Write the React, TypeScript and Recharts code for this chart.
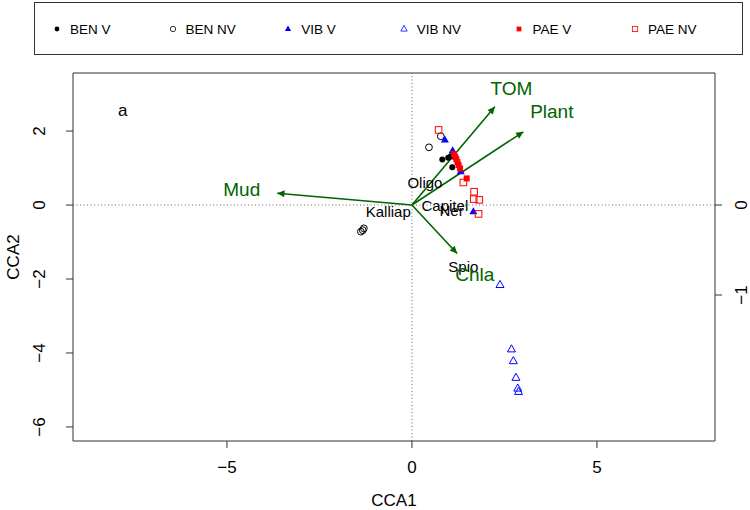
import React from 'react';
import { ScatterChart, Scatter, XAxis, YAxis, ReferenceLine } from 'recharts';

// site scores (CCA1, CCA2) per group
const benVX = [0.82, 1.05, 1.09, 0.98];
const benVY = [1.23, 1.32, 1.02, 1.28];
const benNvX = [0.78, 0.46, -1.38, -1.33, -1.3];
const benNvY = [1.86, 1.56, -0.72, -0.68, -0.63];
const vibVX = [0.89, 1.1, 1.32, 1.66];
const vibVY = [1.76, 1.47, 0.9, -0.18];
const vibNvX = [2.38, 2.69, 2.74, 2.81, 2.86, 2.88];
const vibNvY = [-2.16, -3.9, -4.22, -4.67, -4.96, -5.05];
const paeVX = [1.14, 1.17, 1.2, 1.23, 1.26, 1.3, 1.48];
const paeVY = [1.38, 1.3, 1.24, 1.16, 1.08, 0.99, 0.72];
const paeNvX = [0.72, 1.39, 1.68, 1.67, 1.82, 1.8];
const paeNvY = [2.03, 0.61, 0.36, 0.16, 0.14, -0.24];

// species scores
const speciesNames = ['Oligo', 'Capitel', 'Ner', 'Kalliap', 'Spio'];
const speciesX = [0.35, 0.89, 1.07, -0.64, 1.39];
const speciesY = [0.6, 0.0, -0.14, -0.18, -1.65];

// biplot arrows and their labels
const envNames = ['TOM', 'Plant', 'Mud', 'Chla'];
const envX = [2.24, 3.01, -3.64, 1.22];
const envY = [2.66, 1.98, 0.32, -1.31];
const envLabelX = [2.69, 3.78, -4.6, 1.7];
const envLabelY = [3.16, 2.52, 0.41, -1.89];

const xTicks = [-5, 0, 5];
const yTicks = [-6, -4, -2, 0, 2];
const topTicks = [-1, 0, 1];
const rightTicks = [-1, 0];

const GREEN = '#006400';
const FONT = '"Liberation Sans", Arial, sans-serif';
const AXIS_FS = 17;

const toPts = (xs: number[], ys: number[]) => xs.map((x, i) => ({ x, y: ys[i] }));
const fmt = (v: number) => String(v).replace('-', '\u2212');

const FilledCircle = ({ cx, cy }: any) => <circle cx={cx} cy={cy} r={3} fill="#000" />;
const OpenCircle = ({ cx, cy }: any) => (
  <circle cx={cx} cy={cy} r={3.4} fill="none" stroke="#000" strokeWidth={1} />
);
const triPts = (cx: number, cy: number) =>
  `${cx},${cy - 4.5} ${cx - 4},${cy + 2.6} ${cx + 4},${cy + 2.6}`;
const FilledTri = ({ cx, cy }: any) => <polygon points={triPts(cx, cy)} fill="#0000ff" />;
const OpenTri = ({ cx, cy }: any) => (
  <polygon points={triPts(cx, cy)} fill="none" stroke="#0000ff" strokeWidth={1} />
);
const FilledSq = ({ cx, cy }: any) => <rect x={cx - 3} y={cy - 3} width={6} height={6} fill="#ff0000" />;
const OpenSq = ({ cx, cy }: any) => (
  <rect x={cx - 3.3} y={cy - 3.3} width={6.6} height={6.6} fill="none" stroke="#ff0000" strokeWidth={1} />
);

const groups = [
  { name: 'BEN V', data: toPts(benVX, benVY), shape: FilledCircle },
  { name: 'BEN NV', data: toPts(benNvX, benNvY), shape: OpenCircle },
  { name: 'VIB V', data: toPts(vibVX, vibVY), shape: FilledTri },
  { name: 'VIB NV', data: toPts(vibNvX, vibNvY), shape: OpenTri },
  { name: 'PAE V', data: toPts(paeVX, paeVY), shape: FilledSq },
  { name: 'PAE NV', data: toPts(paeNvX, paeNvY), shape: OpenSq },
];

const speciesData = speciesNames.map((name, i) => ({ name, x: speciesX[i], y: speciesY[i] }));
const envLabelData = envNames.map((name, i) => ({ name, x: envLabelX[i], y: envLabelY[i] }));

const SpeciesText = ({ cx, cy, payload }: any) => (
  <text x={cx} y={cy} textAnchor="middle" dominantBaseline="central" fontSize={15} fontFamily={FONT} fill="#000">
    {payload.name}
  </text>
);
const EnvText = ({ cx, cy, payload }: any) => (
  <text x={cx} y={cy} textAnchor="middle" dominantBaseline="central" fontSize={19} fontFamily={FONT} fill={GREEN}>
    {payload.name}
  </text>
);

const Arrow = (props: any) => {
  const { x1, y1, x2, y2 } = props;
  const a = Math.atan2(y2 - y1, x2 - x1);
  const len = 8;
  const spread = Math.PI / 7;
  const p1 = [x2 - len * Math.cos(a - spread), y2 - len * Math.sin(a - spread)];
  const p2 = [x2 - len * Math.cos(a + spread), y2 - len * Math.sin(a + spread)];
  return (
    <g>
      <line x1={x1} y1={y1} x2={x2} y2={y2} stroke={GREEN} strokeWidth={1.6} />
      <polygon points={`${x2},${y2} ${p1[0]},${p1[1]} ${p2[0]},${p2[1]}`} fill={GREEN} />
    </g>
  );
};

const BottomTick = ({ x, payload }: any) => (
  <text x={x} y={467} textAnchor="middle" dominantBaseline="central" fontSize={AXIS_FS} fontFamily={FONT} fill="#000">
    {fmt(payload.value)}
  </text>
);
const LeftTick = ({ y, payload }: any) => (
  <text x={40} y={y} transform={`rotate(-90, 40, ${y})`} textAnchor="middle" dominantBaseline="central"
    fontSize={AXIS_FS} fontFamily={FONT} fill="#000">
    {fmt(payload.value)}
  </text>
);
const RightTick = ({ y, payload }: any) => (
  <text x={742} y={y} transform={`rotate(-90, 742, ${y})`} textAnchor="middle" dominantBaseline="central"
    fontSize={AXIS_FS} fontFamily={FONT} fill="#000">
    {fmt(payload.value)}
  </text>
);
const NoTick = () => <g />;

const LegendSymbol = ({ shape: Shape }: any) => (
  <svg width={12} height={12} style={{ display: 'block' }}>
    <g transform="translate(6,6) scale(0.8) translate(-6,-6)">
      <Shape cx={6} cy={6} />
    </g>
  </svg>
);

export default function App() {
  const axisStroke = '#333';
  return (
    <div style={{ position: 'absolute', left: 0, top: 0, width: 750, height: 510, background: '#fff', fontFamily: FONT }}>
      {/* legend box */}
      <div style={{ position: 'absolute', left: 34, top: 2, width: 707, height: 51, border: '1px solid #333' }}>
        {groups.map((g, i) => (
          <div key={g.name} style={{ position: 'absolute', left: 16 + i * 115.6, top: 19, display: 'flex', alignItems: 'center', height: 14 }}>
            <LegendSymbol shape={g.shape} />
            <span style={{ marginLeft: 7, fontSize: 13.5, color: '#000' }}>{g.name}</span>
          </div>
        ))}
      </div>
      <div style={{ position: 'absolute', left: 118, top: 101, fontSize: 17, color: '#000' }}>a</div>
      <ScatterChart width={750} height={510} margin={{ top: 53, right: 0, bottom: 19, left: 23 }}>
        <XAxis type="number" dataKey="x" domain={[-9.16, 8.19]} ticks={xTicks} allowDataOverflow
          height={50} tickSize={7} axisLine={{ stroke: axisStroke }} tickLine={{ stroke: axisStroke }}
          tick={BottomTick} interval={0}
          label={{ content: () => <text x={394} y={500} textAnchor="middle" dominantBaseline="central" fontSize={AXIS_FS} fontFamily={FONT} fill="#000">CCA1</text> }} />
        <XAxis xAxisId="top" orientation="top" type="number" domain={[-2.493, 2.228]} ticks={topTicks}
          allowDataOverflow height={20} tickSize={8} axisLine={{ stroke: axisStroke }} tickLine={{ stroke: axisStroke }}
          tick={NoTick} interval={0} />
        <YAxis type="number" dataKey="y" domain={[-6.38, 3.57]} ticks={yTicks} allowDataOverflow
          width={50} tickSize={7} axisLine={{ stroke: axisStroke }} tickLine={{ stroke: axisStroke }}
          tick={LeftTick} interval={0}
          label={{ content: () => <text x={13} y={257} transform="rotate(-90, 13, 257)" textAnchor="middle" dominantBaseline="central" fontSize={AXIS_FS} fontFamily={FONT} fill="#000">CCA2</text> }} />
        <YAxis yAxisId="right" orientation="right" type="number" domain={[-2.622, 1.467]} ticks={rightTicks}
          allowDataOverflow width={35} tickSize={7} axisLine={{ stroke: axisStroke }} tickLine={{ stroke: axisStroke }}
          tick={RightTick} interval={0} />
        <ReferenceLine x={0} stroke="#666" strokeDasharray="1 2.5" />
        <ReferenceLine y={0} stroke="#666" strokeDasharray="1 2.5" />
        {groups.map((g) => (
          <Scatter key={g.name} name={g.name} data={g.data} shape={g.shape} isAnimationActive={false} />
        ))}
        {envNames.map((n, i) => (
          <ReferenceLine key={n} segment={[{ x: 0, y: 0 }, { x: envX[i], y: envY[i] }]} shape={Arrow} />
        ))}
        <Scatter name="species" data={speciesData} shape={SpeciesText} isAnimationActive={false} />
        <Scatter name="env" data={envLabelData} shape={EnvText} isAnimationActive={false} />
      </ScatterChart>
    </div>
  );
}
